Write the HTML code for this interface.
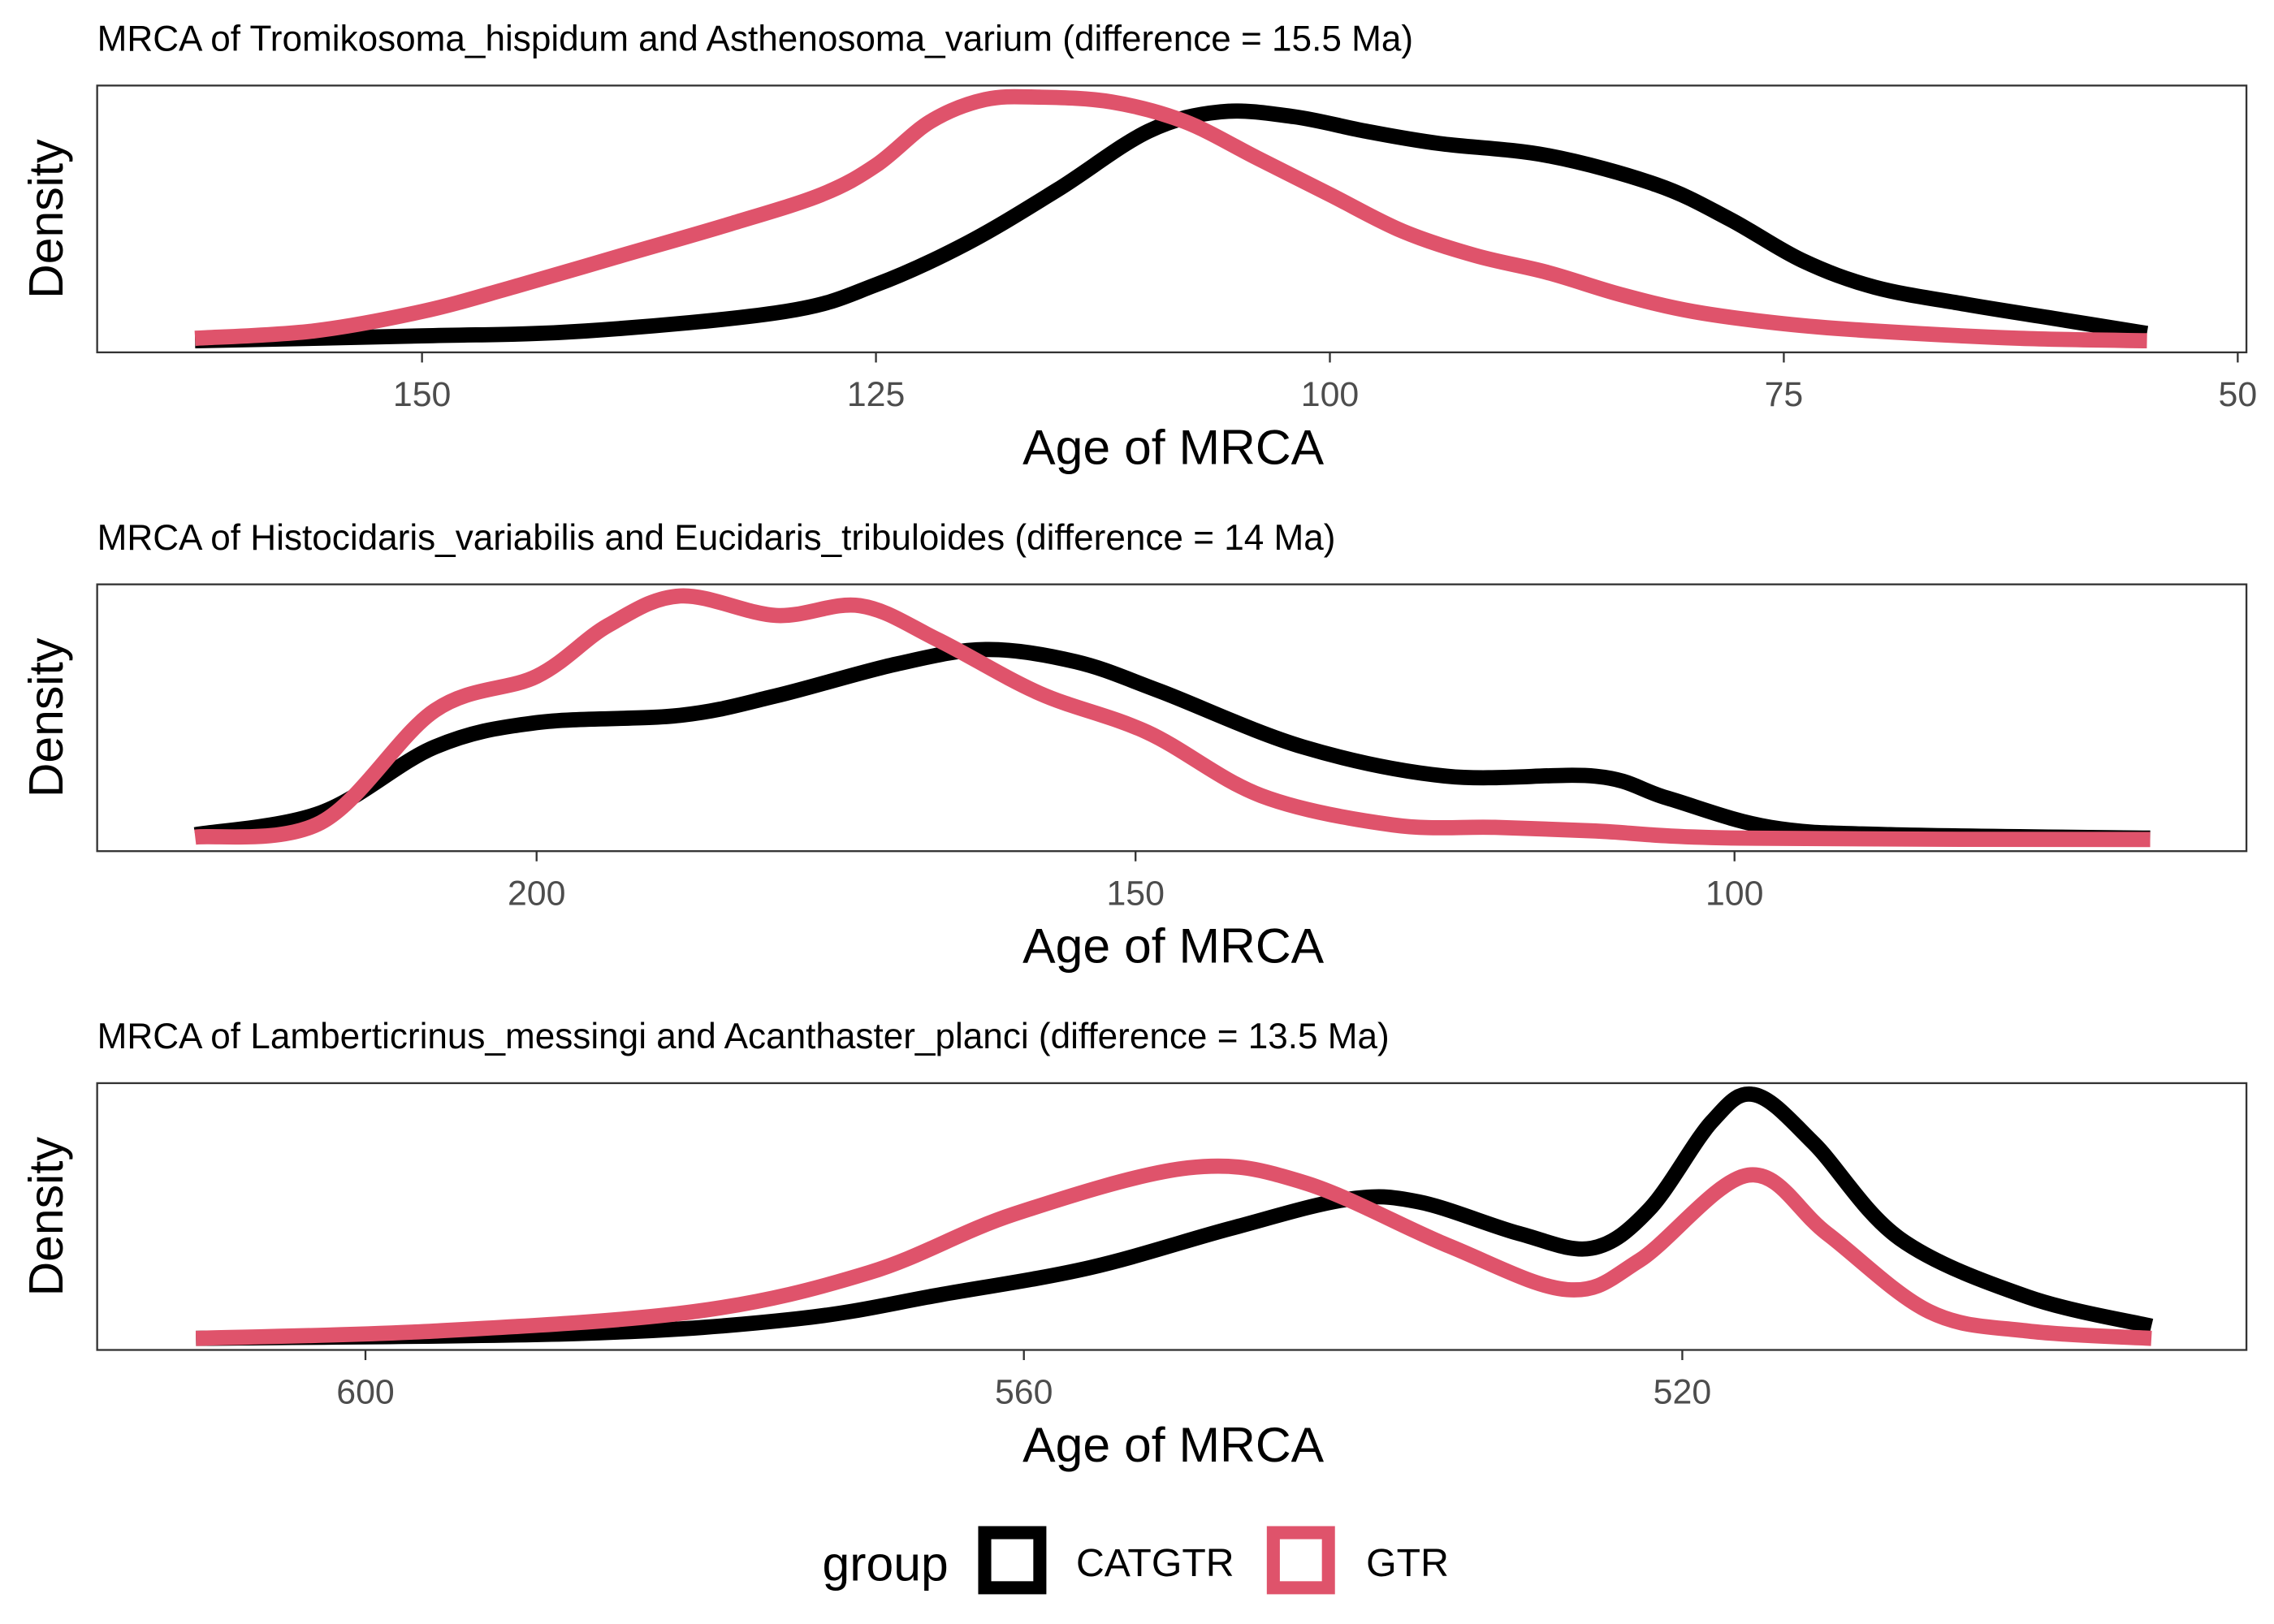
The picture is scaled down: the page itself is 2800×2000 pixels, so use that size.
<!DOCTYPE html>
<html><head><meta charset="utf-8"><style>
html,body{margin:0;padding:0;background:#fff}
svg{display:block}
text{font-family:"Liberation Sans",Arial,sans-serif}
</style></head><body>
<svg id="chart" width="2800" height="2000" viewBox="0 0 1568 1120" preserveAspectRatio="none" xmlns="http://www.w3.org/2000/svg">
<rect width="1568" height="1120" fill="#fff"/>
<g>
<text x="567" y="1090" font-size="34" fill="#000">group</text>
<rect x="679" y="1057" width="38" height="38" fill="none" stroke="#000" stroke-width="9"/>
<text x="742" y="1087" font-size="27" fill="#000">CATGTR</text>
<rect x="878" y="1057" width="38" height="38" fill="none" stroke="#DF536B" stroke-width="9"/>
<text x="942" y="1087" font-size="27" fill="#000">GTR</text>
</g>
</svg>
<script>
// Panel 1
const p1Titles = "MRCA of Tromikosoma_hispidum and Asthenosoma_varium (difference = 15.5 Ma)";
const p1Ticks = [150,125,100,75,50];
const p1CatAge = [162.5,150,141,130,125,120,115,110,106,102,98,94,88,82,78,74,70,65,60,55];
const p1CatDen = [0,0.02,0.04,0.12,0.23,0.40,0.62,0.86,0.94,0.92,0.86,0.81,0.76,0.64,0.50,0.33,0.22,0.15,0.09,0.03];
const p1GtrAge = [162.5,156,150,145,139,133,128,125,122,119,116,112,108,104,100,96,92,88,84,80,75,70,62,55];
const p1GtrDen = [0.01,0.04,0.12,0.22,0.35,0.48,0.60,0.72,0.90,0.99,1.0,0.98,0.90,0.75,0.60,0.45,0.35,0.28,0.19,0.12,0.07,0.04,0.01,0.0];
// Panel 2
const p2Titles = "MRCA of Histocidaris_variabilis and Eucidaris_tribuloides (difference = 14 Ma)";
const p2Ticks = [200,150,100];
const p2CatAge = [228.5,218,208.5,200,188,180,170,162.5,155,148,136,124,111.6,105.6,97,87,65.3];
const p2CatDen = [0.02,0.11,0.38,0.48,0.51,0.59,0.72,0.78,0.73,0.61,0.38,0.26,0.26,0.17,0.05,0.02,0.006];
const p2GtrAge = [228.5,218,208.5,200,194,188,180,173,166.5,158,149,139.5,128.5,120,111.6,99.5,65.3];
const p2GtrDen = [0.01,0.07,0.53,0.67,0.88,1.0,0.92,0.96,0.82,0.60,0.44,0.18,0.06,0.05,0.035,0.006,0];
// Panel 3
const p3Titles = "MRCA of Lamberticrinus_messingi and Acanthaster_planci (difference = 13.5 Ma)";
const p3Ticks = [600,560,520];
const p3CatAge = [610.3,587,573.8,565,556,547.5,540.4,536,529.9,525.5,522,518.2,515.6,512,506.8,499,491.5];
const p3CatDen = [0,0.02,0.08,0.18,0.29,0.45,0.57,0.56,0.43,0.37,0.53,0.89,1.0,0.80,0.41,0.17,0.05];
const p3GtrAge = [610.3,595.8,580,569.4,560.6,550,543,534.2,527,522.6,516,511.2,505,499,491.5];
const p3GtrDen = [0,0.03,0.11,0.27,0.51,0.70,0.64,0.38,0.20,0.32,0.67,0.43,0.11,0.03,0];

const NS="http://www.w3.org/2000/svg";
const svg=document.getElementById('chart');
function mk(tag,attrs,parent){const e=document.createElementNS(NS,tag);for(const k in attrs)e.setAttribute(k,attrs[k]);(parent||svg).appendChild(e);return e;}
function pathD(pts){
  let d="M"+pts[0][0]+","+pts[0][1];
  for(let i=0;i<pts.length-1;i++){
    const p0=pts[Math.max(0,i-1)],p1=pts[i],p2=pts[i+1],p3=pts[Math.min(pts.length-1,i+2)];
    const c1=[p1[0]+(p2[0]-p0[0])/6,p1[1]+(p2[1]-p0[1])/6];
    const c2=[p2[0]-(p3[0]-p1[0])/6,p2[1]-(p3[1]-p1[1])/6];
    d+=" C"+c1[0]+","+c1[1]+" "+c2[0]+","+c2[1]+" "+p2[0]+","+p2[1];
  }
  return d;
}
function panel(idx,top,title,ticks,tickA,tickAx,tickB,tickBx,catA,catD,gtrA,gtrD){
  const g=mk('g',{});
  
  
  const L=67,R=1549,T=top,B=top+184;
  const xs=a=>tickAx+(a-tickA)*(tickBx-tickAx)/(tickB-tickA);
  const base=B-8, ys=v=>base-v*168;
  const t=mk('text',{x:67,y:top-24,'font-size':24.7,fill:'#000'},g);t.textContent=title;
  
  
  const series=[[catA,catD,'#000','catgtr'],[gtrA,gtrD,'#DF536B','gtr']];
  series.forEach(s=>{
    const pts=s[0].map((a,i)=>[xs(a),ys(s[1][i])]);
    const p=mk('path',{d:pathD(pts),fill:'none',stroke:s[2],'stroke-width':10.5,'stroke-linejoin':'round'},g);
    
    
  });
  const box=mk('rect',{x:L,y:T,width:R-L,height:B-T,fill:'none',stroke:'#333',"stroke-width":1.3},g);
  
  
  ticks.forEach(tv=>{
    const x=xs(tv);
    const ln=mk('line',{x1:x,x2:x,y1:B,y2:B+7,stroke:'#333','stroke-width':1.3},g);
    
    
    const tl=mk('text',{x:x,y:B+37,'font-size':24,fill:'#4d4d4d','text-anchor':'middle'},g);tl.textContent=tv;
    
    
  });
  const xt=mk('text',{x:809,y:B+77,'font-size':34,fill:'#000','text-anchor':'middle'},g);xt.textContent='Age of MRCA';
  
  
  const cy=(T+B)/2;
  const yt=mk('text',{x:43,y:cy,'font-size':33,fill:'#000','text-anchor':'middle',transform:'rotate(-90 43 '+cy+')'},g);yt.textContent='Density';
  
  
}
panel(1,59,p1Titles,p1Ticks,150,291,100,917,p1CatAge,p1CatDen,p1GtrAge,p1GtrDen);
panel(2,403,p2Titles,p2Ticks,200,370,100,1196,p2CatAge,p2CatDen,p2GtrAge,p2GtrDen);
panel(3,747,p3Titles,p3Ticks,600,252,520,1160,p3CatAge,p3CatDen,p3GtrAge,p3GtrDen);
</script>
</body></html>
